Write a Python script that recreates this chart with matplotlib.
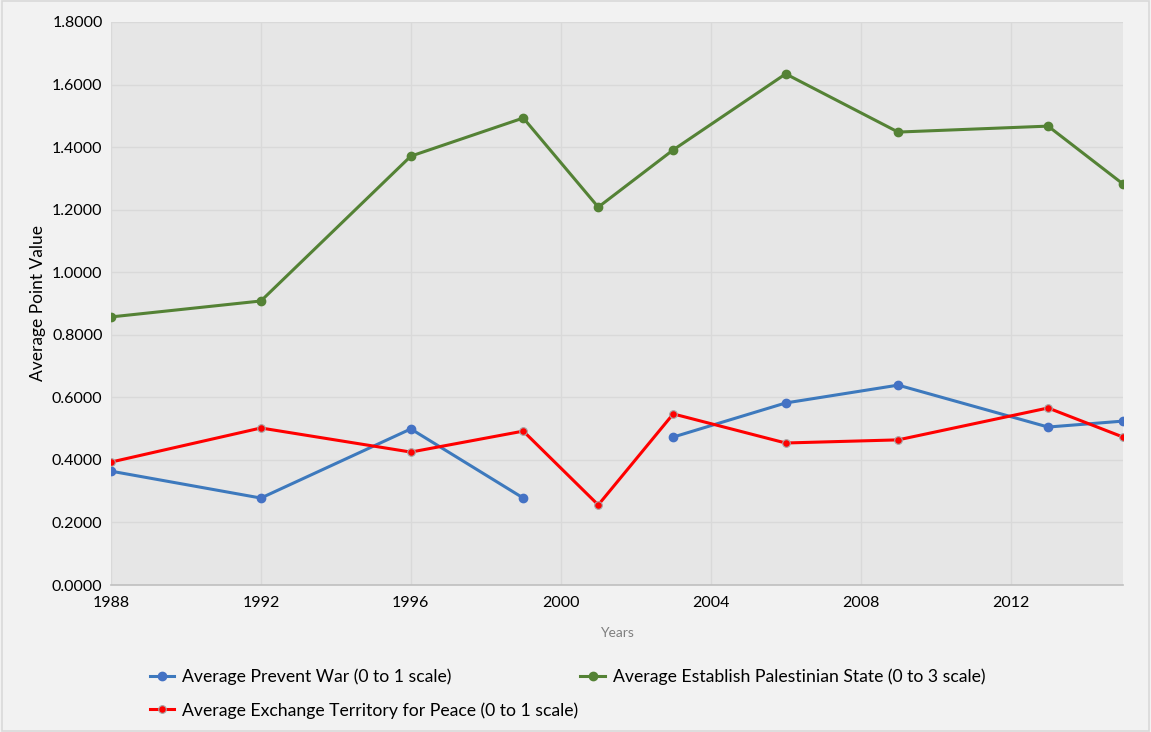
import numpy as np
import matplotlib.pyplot as plt
from matplotlib.ticker import FormatStrFormatter, MultipleLocator
from matplotlib.patches import Rectangle

years = [1988, 1992, 1996, 1999, 2001, 2003, 2006, 2009, 2013, 2015]
prevent_war = [0.364, 0.278, 0.499, 0.278, np.nan, 0.473, 0.582, 0.639, 0.505, 0.524]
palestinian_state = [0.857, 0.908, 1.371, 1.493, 1.208, 1.391, 1.634, 1.448, 1.467, 1.282]
exchange_territory = [0.393, 0.502, 0.425, 0.492, 0.256, 0.547, 0.454, 0.464, 0.566, 0.473]

labels = [
    "Average Prevent War (0 to 1 scale)",
    "Average Establish Palestinian State (0 to 3 scale)",
    "Average Exchange Territory for Peace (0 to 1 scale)",
]

plt.rcParams['font.family'] = ['Lato', 'DejaVu Sans']

fig = plt.figure(figsize=(11.51, 7.32), dpi=100, facecolor='#f2f2f2')
fig.patches.append(Rectangle((0.002, 0.002), 0.996, 0.996, transform=fig.transFigure,
                             fill=False, edgecolor='#d9d9d9', linewidth=1.2))
ax = fig.add_axes([0.0964, 0.2008, 0.8793, 0.7692])
ax.set_facecolor('#e6e6e6')

l1, = ax.plot(years, prevent_war, color='#3d79bd', linewidth=2.2, marker='o',
              markersize=6, markerfacecolor='#4472c4', markeredgecolor='#4472c4', zorder=3)
l2, = ax.plot(years, palestinian_state, color='#548235', linewidth=2.2, marker='o',
              markersize=6, markerfacecolor='#548235', markeredgecolor='#548235', zorder=3)
l3, = ax.plot(years, exchange_territory, color='#ff0000', linewidth=2.2, marker='o',
              markersize=5.5, markerfacecolor='#ff0000', markeredgecolor='#a6a6a6',
              markeredgewidth=0.8, zorder=4)

ax.set_xlim(1988, 2015)
ax.set_ylim(0, 1.8)
ax.xaxis.set_major_locator(MultipleLocator(4))
ax.yaxis.set_major_locator(MultipleLocator(0.2))
ax.yaxis.set_major_formatter(FormatStrFormatter('%.4f'))
ax.grid(True, color='#d9d9d9', linewidth=1.0)
ax.set_axisbelow(True)
for side in ['top', 'right', 'left']:
    ax.spines[side].set_visible(False)
ax.spines['bottom'].set_color('#bfbfbf')
ax.spines['bottom'].set_linewidth(1.2)
ax.tick_params(axis='both', length=0, labelsize=11.5, colors='#000000', pad=8)
ax.tick_params(axis='y', pad=6)

ax.set_ylabel('Average Point Value', fontsize=12.5, labelpad=4)
ax.set_xlabel('Years', fontsize=10, color='#7f7f7f', labelpad=12)

fig.legend([l1, l3, l2], [labels[0], labels[2], labels[1]], ncol=2,
           loc='upper left', bbox_to_anchor=(0.124, 0.096), frameon=False,
           fontsize=12.7, handlelength=1.4, handletextpad=0.45, columnspacing=0.1,
           labelspacing=0.95, borderaxespad=0)

fig.savefig('out.png', dpi=100, facecolor=fig.get_facecolor())
